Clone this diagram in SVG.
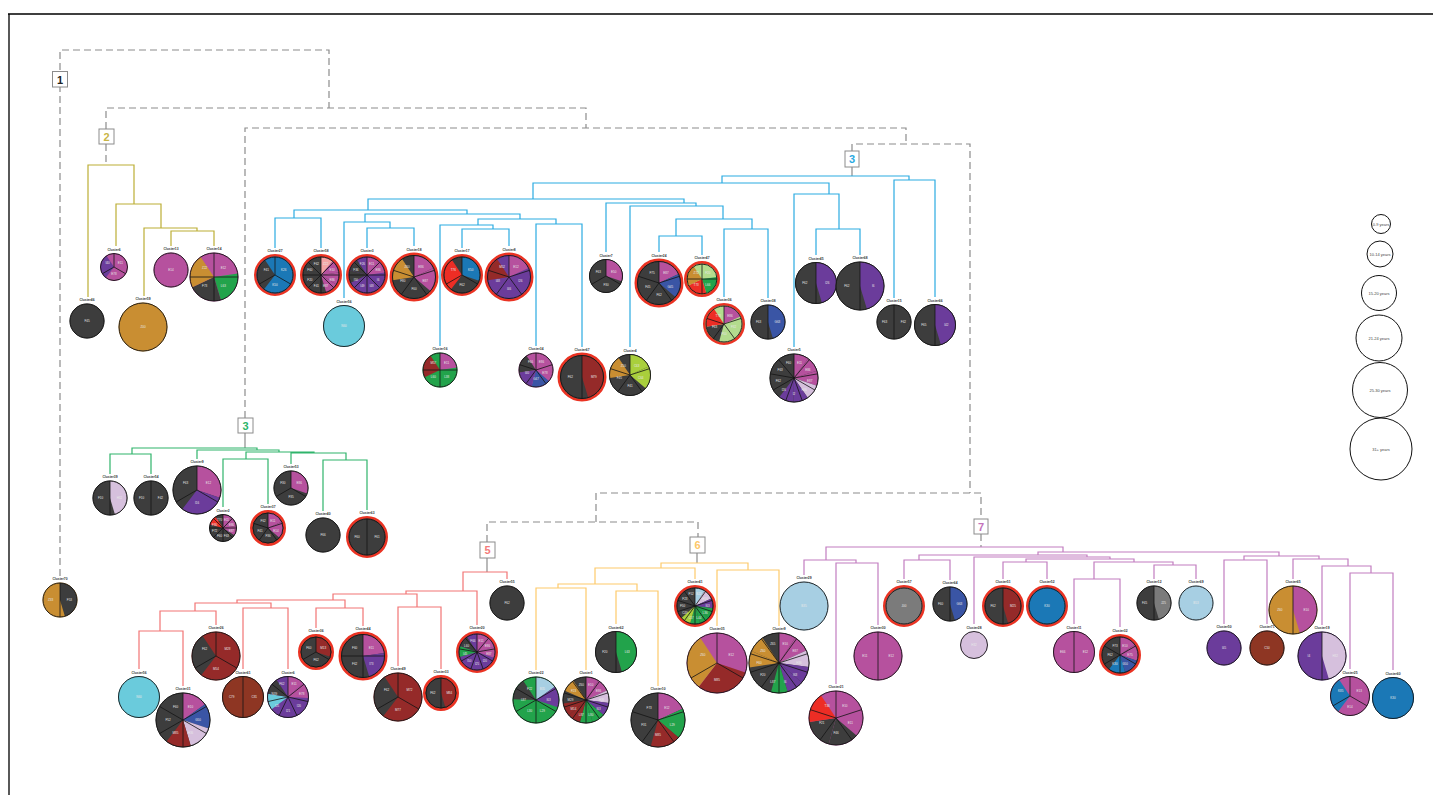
<svg xmlns="http://www.w3.org/2000/svg" width="1433" height="795" viewBox="0 0 1433 795">
<style>
.ck{fill:#3d3d3d;stroke:#3d3d3d}.ce{fill:#b6519e;stroke:#b6519e}.ci{fill:#6b3c9b;stroke:#6b3c9b}.cb{fill:#1b78b6;stroke:#1b78b6}
.cg{fill:#3a55a5;stroke:#3a55a5}.cl{fill:#22a34b;stroke:#22a34b}.cf{fill:#b3dc8e;stroke:#b3dc8e}.cy{fill:#a9cf3c;stroke:#a9cf3c}
.cz{fill:#c98e32;stroke:#c98e32}.cm{fill:#952a29;stroke:#952a29}.cc{fill:#8e3623;stroke:#8e3623}.ch{fill:#d6c0dd;stroke:#d6c0dd}
.ca{fill:#a7cfe3;stroke:#a7cfe3}.cn{fill:#6acbdc;stroke:#6acbdc}.ct{fill:#ed2d25;stroke:#ed2d25}.cp{fill:#f5a4a4;stroke:#f5a4a4}.cj{fill:#7b7b7b;stroke:#7b7b7b}
circle.s{fill:none;stroke-width:1;stroke-dasharray:1 99}
.o{fill:none;stroke:#141414;stroke-width:.9}
.rg{fill:none;stroke:#ea3323;stroke-width:3}
.sp{fill:none;stroke:#141414;stroke-width:.8;vector-effect:non-scaling-stroke}
.t{font:bold 3.3px "Liberation Sans",Arial,sans-serif;fill:#333;text-anchor:middle}
.lb{font:3px "Liberation Sans",Arial,sans-serif;fill:#e8e8e8;text-anchor:middle;dominant-baseline:central}
.d{fill:none;stroke:#8c8c8c;stroke-width:1.2;stroke-dasharray:7 4}
.gs{fill:none;stroke:#8c8c8c;stroke-width:1.2}
.e1{fill:none;stroke:#bcae35;stroke-width:1.2}.e2{fill:none;stroke:#2babe2;stroke-width:1.2}.e3{fill:none;stroke:#2fb46b;stroke-width:1.2}
.e5{fill:none;stroke:#f27474;stroke-width:1.2}.e6{fill:none;stroke:#fdca6b;stroke-width:1.2}.e7{fill:none;stroke:#c27dc0;stroke-width:1.2}
.bx{fill:#fff;stroke:#8c8c8c;stroke-width:1}
.bt{font:bold 11px "Liberation Sans",Arial,sans-serif;text-anchor:middle}
.lg{fill:none;stroke:#111;stroke-width:1}
.lt{font:4px "Liberation Sans",Arial,sans-serif;fill:#444;text-anchor:middle;dominant-baseline:central}
</style>
<defs>
<path id="s2" class="sp" d="M0-1V1"/>
<path id="s3" class="sp" d="M0 0V-1M0 0L.866 .5M0 0L-.866 .5"/>
<path id="s4" class="sp" d="M0-1V1M-1 0H1"/>
<path id="s5" class="sp" d="M0 0V-1M0 0L.951-.309M0 0L.588 .809M0 0L-.588 .809M0 0L-.951-.309"/>
<path id="s6" class="sp" d="M0-1V1M.866-.5L-.866 .5M.866 .5L-.866-.5"/>
<path id="s7" class="sp" d="M0 0V-1M0 0L.782-.623M0 0L.975 .223M0 0L.434 .901M0 0L-.434 .901M0 0L-.975 .223M0 0L-.782-.623"/>
<path id="s8" class="sp" d="M0-1V1M-1 0H1M.707-.707L-.707 .707M.707 .707L-.707-.707"/>
<path id="s9" class="sp" d="M0 0V-1M0 0L.643-.766M0 0L.985-.174M0 0L.866 .5M0 0L.342 .94M0 0L-.342 .94M0 0L-.866 .5M0 0L-.985-.174M0 0L-.643-.766"/>
<path id="s10" class="sp" d="M0-1V1M.588-.809L-.588 .809M.951-.309L-.951 .309M.951 .309L-.951-.309M.588 .809L-.588-.809"/>
</defs>
<rect width="1433" height="795" fill="#fff"/>
<path d="M8 14H1433M9 14V795" stroke="#000" stroke-width="1.3" fill="none"/>
<g id="connectors">
<path class="d" d="M60 576V50H329V108"/>
<path class="d" d="M106 129V108H586V128"/>
<path class="d" d="M245 418V128H906V144"/>
<path class="d" d="M852 151V144H970V493"/>
<path class="d" d="M596 522V493H981V519"/>
<path class="d" d="M487 542V522H698V537"/>
<path class="d" d="M106 144V165M981 534V547"/>
<path class="gs" d="M852 167V176M245 433V448M487 558V572M697 553V563"/>
<path class="e1" d="M88 297V165H134V204M116 246V204H161V228M144 296V228H197V231M171 246V231H214V246"/>
<path class="e2" d="M722 183V176H909V180M533 199V183H829V194M894 298V180H935V297M368 210V199H684V203M294 218V210H467V214M275 248V218H321V248M365 222V214H520V219M344 298V222H390V228M367 248V228H414V246M478 225V219H556V224M440 346V225H493V229M462 248V229H509V246M536 346V224H582V347M606 252V203H696V206M630 347V206H723V219M676 236V219H752V229M659 252V236H702V255M724 297V229H768V298M794 347V194H839V229M816 255V229H860V255"/>
<path class="e3" d="M132 454V448H257V450M110 474V454H151V474M197 459V450H279V452M246 459V452H314V453M223 507V459H268V504M291 464V453H346V460M323 511V460H367V510"/>
<path class="e5" d="M463 591V572H507V579M406 594V591H477V625M333 600V594H417V607M398 666V607H441V669M237 603V600H345V608M316 628V608H363V626M195 611V603H271V608M160 631V611H216V625M139 669V631H183V686M243 669V608H288V669"/>
<path class="e6" d="M661 568V563H748V570M595 584V568H695V579M558 588V584H637V591M536 670V588H586V670M616 624V591H658V686M717 626V570H779V626"/>
<path class="e7" d="M826 560V547H1063V552M804 575V560H856V563M836 684V563H878V625M1038 555V552H1279V556M919 560V555H1087V557M904 579V560H950V580M974 624V557H1110V559M1026 562V559H1134V562M1003 579V562H1047V579M1094 579V562H1173V565M1074 624V579H1120V627M1154 579V565H1196V579M1244 560V556H1319V559M1224 624V560H1267V624M1293 579V559H1348V566M1322 625V566H1371V573M1350 669V573H1393V670"/>
</g>
<g id="box1"><rect class="bx" x="52.5" y="71.5" width="15" height="15.5"/><text class="bt" x="60" y="83.5" fill="#222">1</text></g>
<g id="box2"><rect class="bx" x="99" y="129" width="15" height="15"/><text class="bt" x="106.5" y="140.5" fill="#c9b545">2</text></g>
<g id="box3a"><rect class="bx" x="845" y="151" width="14" height="16"/><text class="bt" x="852" y="163" fill="#2aa9e1">3</text></g>
<g id="box3b"><rect class="bx" x="238" y="418" width="15" height="15"/><text class="bt" x="245.5" y="429.5" fill="#2db56a">3</text></g>
<g id="box5"><rect class="bx" x="480" y="542" width="15" height="16"/><text class="bt" x="487.5" y="554" fill="#f47b7b">5</text></g>
<g id="box6"><rect class="bx" x="690" y="537" width="15" height="16"/><text class="bt" x="697.5" y="549" fill="#fdc86a">6</text></g>
<g id="box7"><rect class="bx" x="974" y="519" width="14" height="15"/><text class="bt" x="981" y="530.5" fill="#c371bb">7</text></g>

<g id="p1" transform="translate(114,267)"><circle class="ce" r="13.5"/><g transform="scale(13.5)rotate(-90)"><circle class="s ci" r=".5" pathLength="3" stroke-dashoffset="-2"/></g><use href="#s3" transform="scale(13.5)"/><circle class="o" r="13.5"/><text class="t" y="-16.5">Cluster6</text><text class="lb" transform="rotate(60)translate(0,-7.4)rotate(-60)">E11</text><text class="lb" y="7.4">E78</text><text class="lb" transform="rotate(300)translate(0,-7.4)rotate(-300)">I40</text></g>
<g id="p2" transform="translate(171,270)"><circle class="ce" r="17"/><circle class="o" r="17"/><text class="t" y="-20">Cluster13</text><text class="lb">E14</text></g>
<g id="p3" transform="translate(214,277)"><circle class="ce" r="24"/><g transform="scale(24)rotate(-90)"><circle class="s cl" r=".5" pathLength="4" stroke-dashoffset="-1"/><circle class="s ck" r=".5" pathLength="4" stroke-dashoffset="-2"/><circle class="s cz" r=".5" pathLength="4" stroke-dashoffset="-3"/></g><use href="#s4" transform="scale(24)"/><circle class="o" r="24"/><text class="t" y="-27">Cluster14</text><text class="lb" transform="rotate(45)translate(0,-13.2)rotate(-45)">E12</text><text class="lb" transform="rotate(135)translate(0,-13.2)rotate(-135)">L63</text><text class="lb" transform="rotate(225)translate(0,-13.2)rotate(-225)">F73</text><text class="lb" transform="rotate(315)translate(0,-13.2)rotate(-315)">Z22</text></g>
<g id="p4" transform="translate(87,321)"><circle class="ck" r="17"/><circle class="o" r="17"/><text class="t" y="-20">Cluster46</text><text class="lb">F45</text></g>
<g id="p5" transform="translate(143,327)"><circle class="cz" r="24"/><circle class="o" r="24"/><text class="t" y="-27">Cluster59</text><text class="lb">Z00</text></g>

<g id="p6" transform="translate(275,275)"><circle class="rg" r="19.5"/><circle class="cb" r="18"/><g transform="scale(18)rotate(-90)"><circle class="s ck" r=".5" pathLength="3" stroke-dashoffset="-2"/></g><use href="#s3" transform="scale(18)"/><circle class="o" r="18"/><text class="t" y="-23">Cluster27</text><text class="lb" transform="rotate(60)translate(0,-10)rotate(-60)">K26</text><text class="lb" y="10">K50</text><text class="lb" transform="rotate(300)translate(0,-10)rotate(-300)">F41</text></g>
<g id="p7" transform="translate(321,275)"><circle class="rg" r="19.5"/><circle class="ck" r="18"/><g transform="scale(18)rotate(-90)"><circle class="s cp" r=".5" pathLength="8"/><circle class="s ce" r=".5" pathLength="8" stroke-dashoffset="-1"/><circle class="s ce" r=".5" pathLength="8" stroke-dashoffset="-2"/><circle class="s ce" r=".5" pathLength="8" stroke-dashoffset="-3"/></g><use href="#s8" transform="scale(18)"/><circle class="o" r="18"/><text class="t" y="-23">Cluster58</text><text class="lb" transform="rotate(22.5)translate(0,-12)rotate(-22.5)">Z22</text><text class="lb" transform="rotate(67.5)translate(0,-12)rotate(-67.5)">E10</text><text class="lb" transform="rotate(112.5)translate(0,-12)rotate(-112.5)">E86</text><text class="lb" transform="rotate(157.5)translate(0,-12)rotate(-157.5)">E87</text><text class="lb" transform="rotate(202.5)translate(0,-12)rotate(-202.5)">F41</text><text class="lb" transform="rotate(247.5)translate(0,-12)rotate(-247.5)">F20</text><text class="lb" transform="rotate(292.5)translate(0,-12)rotate(-292.5)">F60</text><text class="lb" transform="rotate(337.5)translate(0,-12)rotate(-337.5)">F62</text></g>
<g id="p8" transform="translate(367,275)"><circle class="rg" r="19.5"/><circle class="ci" r="18"/><g transform="scale(18)rotate(-90)"><circle class="s ce" r=".5" pathLength="8"/><circle class="s ce" r=".5" pathLength="8" stroke-dashoffset="-1"/><circle class="s ck" r=".5" pathLength="8" stroke-dashoffset="-6"/><circle class="s ck" r=".5" pathLength="8" stroke-dashoffset="-7"/></g><use href="#s8" transform="scale(18)"/><circle class="o" r="18"/><text class="t" y="-23">Cluster3</text><text class="lb" transform="rotate(22.5)translate(0,-12)rotate(-22.5)">E11</text><text class="lb" transform="rotate(67.5)translate(0,-12)rotate(-67.5)">E86</text><text class="lb" transform="rotate(112.5)translate(0,-12)rotate(-112.5)">I6</text><text class="lb" transform="rotate(157.5)translate(0,-12)rotate(-157.5)">I48</text><text class="lb" transform="rotate(202.5)translate(0,-12)rotate(-202.5)">I49</text><text class="lb" transform="rotate(247.5)translate(0,-12)rotate(-247.5)">I50</text><text class="lb" transform="rotate(292.5)translate(0,-12)rotate(-292.5)">F36</text><text class="lb" transform="rotate(337.5)translate(0,-12)rotate(-337.5)">F26</text></g>
<g id="p9" transform="translate(414,277)"><circle class="rg" r="23"/><circle class="ck" r="21.5"/><g transform="scale(21.5)rotate(-90)"><circle class="s ce" r=".5" pathLength="5"/><circle class="s ce" r=".5" pathLength="5" stroke-dashoffset="-1"/><circle class="s cz" r=".5" pathLength="5" stroke-dashoffset="-4"/></g><use href="#s5" transform="scale(21.5)"/><circle class="o" r="21.5"/><text class="t" y="-26.5">Cluster18</text><text class="lb" transform="rotate(36)translate(0,-11.8)rotate(-36)">E86</text><text class="lb" transform="rotate(108)translate(0,-11.8)rotate(-108)">E87</text><text class="lb" y="11.8">F00</text><text class="lb" transform="rotate(252)translate(0,-11.8)rotate(-252)">F80</text><text class="lb" transform="rotate(324)translate(0,-11.8)rotate(-324)">Z60</text></g>
<g id="p10" transform="translate(462,275)"><circle class="rg" r="19.5"/><circle class="ck" r="18"/><g transform="scale(18)rotate(-90)"><circle class="s cb" r=".5" pathLength="3"/><circle class="s ct" r=".5" pathLength="3" stroke-dashoffset="-2"/></g><use href="#s3" transform="scale(18)"/><circle class="o" r="18"/><text class="t" y="-23">Cluster17</text><text class="lb" transform="rotate(60)translate(0,-10)rotate(-60)">K50</text><text class="lb" y="10">F62</text><text class="lb" transform="rotate(300)translate(0,-10)rotate(-300)">T76</text></g>
<g id="p11" transform="translate(509,277)"><circle class="rg" r="23"/><circle class="ci" r="21.5"/><g transform="scale(21.5)rotate(-90)"><circle class="s ce" r=".5" pathLength="5"/><circle class="s cm" r=".5" pathLength="5" stroke-dashoffset="-4"/></g><use href="#s5" transform="scale(21.5)"/><circle class="o" r="21.5"/><text class="t" y="-26.5">Cluster8</text><text class="lb" transform="rotate(36)translate(0,-11.8)rotate(-36)">E12</text><text class="lb" transform="rotate(108)translate(0,-11.8)rotate(-108)">I26</text><text class="lb" y="11.8">I46</text><text class="lb" transform="rotate(252)translate(0,-11.8)rotate(-252)">I48</text><text class="lb" transform="rotate(324)translate(0,-11.8)rotate(-324)">M52</text></g>
<g id="p12" transform="translate(344,326)"><circle class="cn" r="20.5"/><circle class="o" r="20.5"/><text class="t" y="-23.5">Cluster56</text><text class="lb">N60</text></g>
<g id="p13" transform="translate(440,370)"><circle class="cl" r="17"/><g transform="scale(17)rotate(-90)"><circle class="s ce" r=".5" pathLength="4"/><circle class="s cm" r=".5" pathLength="4" stroke-dashoffset="-3"/></g><use href="#s4" transform="scale(17)"/><circle class="o" r="17"/><text class="t" y="-20">Cluster16</text><text class="lb" transform="rotate(45)translate(0,-9.4)rotate(-45)">E11</text><text class="lb" transform="rotate(135)translate(0,-9.4)rotate(-135)">L38</text><text class="lb" transform="rotate(225)translate(0,-9.4)rotate(-225)">L60</text><text class="lb" transform="rotate(315)translate(0,-9.4)rotate(-315)">M57</text></g>
<g id="p14" transform="translate(536,370)"><circle class="ce" r="17"/><g transform="scale(17)rotate(-90)"><circle class="s cg" r=".5" pathLength="5" stroke-dashoffset="-2"/><circle class="s ci" r=".5" pathLength="5" stroke-dashoffset="-3"/><circle class="s ck" r=".5" pathLength="5" stroke-dashoffset="-4"/></g><use href="#s5" transform="scale(17)"/><circle class="o" r="17"/><text class="t" y="-20">Cluster34</text><text class="lb" transform="rotate(36)translate(0,-9.4)rotate(-36)">E86</text><text class="lb" transform="rotate(108)translate(0,-9.4)rotate(-108)">E78</text><text class="lb" y="9.4">G47</text><text class="lb" transform="rotate(252)translate(0,-9.4)rotate(-252)">I40</text><text class="lb" transform="rotate(324)translate(0,-9.4)rotate(-324)">F66</text></g>
<g id="p15" transform="translate(582,377)"><circle class="rg" r="23"/><circle class="ck" r="21.5"/><g transform="scale(21.5)rotate(-90)"><circle class="s cm" r=".5" pathLength="2"/></g><use href="#s2" transform="scale(21.5)"/><circle class="o" r="21.5"/><text class="t" y="-26.5">Cluster67</text><text class="lb" x="11.8">M79</text><text class="lb" x="-11.8">F62</text></g>
<g id="p16" transform="translate(606,276)"><circle class="ck" r="16.5"/><g transform="scale(16.5)rotate(-90)"><circle class="s ce" r=".5" pathLength="3"/></g><use href="#s3" transform="scale(16.5)"/><circle class="o" r="16.5"/><text class="t" y="-19.5">Cluster7</text><text class="lb" transform="rotate(60)translate(0,-9)rotate(-60)">E50</text><text class="lb" y="9">F30</text><text class="lb" transform="rotate(300)translate(0,-9)rotate(-300)">F63</text></g>
<g id="p17" transform="translate(659,283)"><circle class="rg" r="23"/><circle class="ck" r="21.5"/><g transform="scale(21.5)rotate(-90)"><circle class="s ce" r=".5" pathLength="5"/><circle class="s cg" r=".5" pathLength="5" stroke-dashoffset="-1"/></g><use href="#s5" transform="scale(21.5)"/><circle class="o" r="21.5"/><text class="t" y="-26.5">Cluster24</text><text class="lb" transform="rotate(36)translate(0,-11.8)rotate(-36)">E87</text><text class="lb" transform="rotate(108)translate(0,-11.8)rotate(-108)">G45</text><text class="lb" y="11.8">F62</text><text class="lb" transform="rotate(252)translate(0,-11.8)rotate(-252)">F45</text><text class="lb" transform="rotate(324)translate(0,-11.8)rotate(-324)">F75</text></g>
<g id="p18" transform="translate(702,279)"><circle class="rg" r="16.5"/><circle class="cf" r="15"/><g transform="scale(15)rotate(-90)"><circle class="s cl" r=".5" pathLength="4" stroke-dashoffset="-1"/><circle class="s ct" r=".5" pathLength="4" stroke-dashoffset="-2"/><circle class="s cz" r=".5" pathLength="4" stroke-dashoffset="-3"/></g><use href="#s4" transform="scale(15)"/><circle class="o" r="15"/><text class="t" y="-20">Cluster47</text><text class="lb" transform="rotate(45)translate(0,-8.3)rotate(-45)">F20</text><text class="lb" transform="rotate(135)translate(0,-8.3)rotate(-135)">L66</text><text class="lb" transform="rotate(225)translate(0,-8.3)rotate(-225)">T73</text><text class="lb" transform="rotate(315)translate(0,-8.3)rotate(-315)">Z72</text></g>
<g id="p19" transform="translate(724,324)"><circle class="rg" r="19.5"/><circle class="cf" r="18"/><g transform="scale(18)rotate(-90)"><circle class="s ce" r=".5" pathLength="5"/><circle class="s ck" r=".5" pathLength="5" stroke-dashoffset="-3"/><circle class="s ct" r=".5" pathLength="5" stroke-dashoffset="-4"/></g><use href="#s5" transform="scale(18)"/><circle class="o" r="18"/><text class="t" y="-23">Cluster36</text><text class="lb" transform="rotate(36)translate(0,-10)rotate(-36)">E86</text><text class="lb" transform="rotate(108)translate(0,-10)rotate(-108)">F32</text><text class="lb" y="10">F50</text><text class="lb" transform="rotate(252)translate(0,-10)rotate(-252)">F63</text><text class="lb" transform="rotate(324)translate(0,-10)rotate(-324)">T73</text></g>
<g id="p20" transform="translate(768,322)"><circle class="ck" r="17"/><g transform="scale(17)rotate(-90)"><circle class="s cg" r=".5" pathLength="2"/></g><use href="#s2" transform="scale(17)"/><circle class="o" r="17"/><text class="t" y="-20">Cluster38</text><text class="lb" x="9.4">G63</text><text class="lb" x="-9.4">F63</text></g>
<g id="p21" transform="translate(816,283)"><circle class="ck" r="20.5"/><g transform="scale(20.5)rotate(-90)"><circle class="s ci" r=".5" pathLength="2"/></g><use href="#s2" transform="scale(20.5)"/><circle class="o" r="20.5"/><text class="t" y="-23.5">Cluster45</text><text class="lb" x="11.3">I26</text><text class="lb" x="-11.3">F62</text></g>
<g id="p22" transform="translate(860,286)"><circle class="ck" r="24"/><g transform="scale(24)rotate(-90)"><circle class="s ci" r=".5" pathLength="2"/></g><use href="#s2" transform="scale(24)"/><circle class="o" r="24"/><text class="t" y="-27">Cluster68</text><text class="lb" x="13.2">I6</text><text class="lb" x="-13.2">F62</text></g>
<g id="p23" transform="translate(894,322)"><circle class="ck" r="17"/><use href="#s2" transform="scale(17)"/><circle class="o" r="17"/><text class="t" y="-20">Cluster15</text><text class="lb" x="9.4">F62</text><text class="lb" x="-9.4">F63</text></g>
<g id="p24" transform="translate(935,325)"><circle class="ck" r="20.5"/><g transform="scale(20.5)rotate(-90)"><circle class="s ci" r=".5" pathLength="2"/></g><use href="#s2" transform="scale(20.5)"/><circle class="o" r="20.5"/><text class="t" y="-23.5">Cluster66</text><text class="lb" x="11.3">I42</text><text class="lb" x="-11.3">F65</text></g>
<g id="p25" transform="translate(794,378)"><circle class="ck" r="24"/><g transform="scale(24)rotate(-90)"><circle class="s ce" r=".5" pathLength="9"/><circle class="s ce" r=".5" pathLength="9" stroke-dashoffset="-1"/><circle class="s ce" r=".5" pathLength="9" stroke-dashoffset="-2"/><circle class="s ch" r=".5" pathLength="9" stroke-dashoffset="-3"/><circle class="s ci" r=".5" pathLength="9" stroke-dashoffset="-4"/><circle class="s ci" r=".5" pathLength="9" stroke-dashoffset="-5"/></g><use href="#s9" transform="scale(24)"/><circle class="o" r="24"/><text class="t" y="-27">Cluster5</text><text class="lb" transform="rotate(20)translate(0,-16)rotate(-20)">E11</text><text class="lb" transform="rotate(60)translate(0,-16)rotate(-60)">E86</text><text class="lb" transform="rotate(100)translate(0,-16)rotate(-100)">E87</text><text class="lb" transform="rotate(140)translate(0,-16)rotate(-140)">H36</text><text class="lb" y="16">I2</text><text class="lb" transform="rotate(220)translate(0,-16)rotate(-220)">I26</text><text class="lb" transform="rotate(260)translate(0,-16)rotate(-260)">F62</text><text class="lb" transform="rotate(300)translate(0,-16)rotate(-300)">F63</text><text class="lb" transform="rotate(340)translate(0,-16)rotate(-340)">F60</text></g>
<g id="p26" transform="translate(630,375)"><circle class="ck" r="20.5"/><g transform="scale(20.5)rotate(-90)"><circle class="s cy" r=".5" pathLength="5"/><circle class="s cy" r=".5" pathLength="5" stroke-dashoffset="-1"/><circle class="s cz" r=".5" pathLength="5" stroke-dashoffset="-4"/></g><use href="#s5" transform="scale(20.5)"/><circle class="o" r="20.5"/><text class="t" y="-23.5">Cluster4</text><text class="lb" transform="rotate(36)translate(0,-11.3)rotate(-36)">C63</text><text class="lb" transform="rotate(108)translate(0,-11.3)rotate(-108)">C64</text><text class="lb" y="11.3">F41</text><text class="lb" transform="rotate(252)translate(0,-11.3)rotate(-252)">F45</text><text class="lb" transform="rotate(324)translate(0,-11.3)rotate(-324)">Z50</text></g>

<g id="p27" transform="translate(110,498)"><circle class="ck" r="17"/><g transform="scale(17)rotate(-90)"><circle class="s ch" r=".5" pathLength="2"/></g><use href="#s2" transform="scale(17)"/><circle class="o" r="17"/><text class="t" y="-20">Cluster39</text><text class="lb" x="9.4">H32</text><text class="lb" x="-9.4">F10</text></g>
<g id="p28" transform="translate(151,498)"><circle class="ck" r="17"/><use href="#s2" transform="scale(17)"/><circle class="o" r="17"/><text class="t" y="-20">Cluster54</text><text class="lb" x="9.4">F42</text><text class="lb" x="-9.4">F10</text></g>
<g id="p29" transform="translate(197,490)"><circle class="ck" r="24"/><g transform="scale(24)rotate(-90)"><circle class="s ce" r=".5" pathLength="3"/><circle class="s ci" r=".5" pathLength="3" stroke-dashoffset="-1"/></g><use href="#s3" transform="scale(24)"/><circle class="o" r="24"/><text class="t" y="-27">Cluster9</text><text class="lb" transform="rotate(60)translate(0,-13.2)rotate(-60)">E12</text><text class="lb" y="13.2">I16</text><text class="lb" transform="rotate(300)translate(0,-13.2)rotate(-300)">F63</text></g>
<g id="p30" transform="translate(223,528)"><circle class="ck" r="13.5"/><g transform="scale(13.5)rotate(-90)"><circle class="s ce" r=".5" pathLength="8"/><circle class="s ce" r=".5" pathLength="8" stroke-dashoffset="-1"/><circle class="s ce" r=".5" pathLength="8" stroke-dashoffset="-2"/><circle class="s ct" r=".5" pathLength="8" stroke-dashoffset="-7"/></g><use href="#s8" transform="scale(13.5)"/><circle class="o" r="13.5"/><text class="t" y="-16.5">Cluster2</text><text class="lb" transform="rotate(22.5)translate(0,-9)rotate(-22.5)">E11</text><text class="lb" transform="rotate(67.5)translate(0,-9)rotate(-67.5)">E86</text><text class="lb" transform="rotate(112.5)translate(0,-9)rotate(-112.5)">E87</text><text class="lb" transform="rotate(157.5)translate(0,-9)rotate(-157.5)">F63</text><text class="lb" transform="rotate(202.5)translate(0,-9)rotate(-202.5)">F60</text><text class="lb" transform="rotate(247.5)translate(0,-9)rotate(-247.5)">F72</text><text class="lb" transform="rotate(292.5)translate(0,-9)rotate(-292.5)">F80</text><text class="lb" transform="rotate(337.5)translate(0,-9)rotate(-337.5)">T70</text></g>
<g id="p31" transform="translate(268,528)"><circle class="rg" r="16.5"/><circle class="ck" r="15"/><g transform="scale(15)rotate(-90)"><circle class="s ce" r=".5" pathLength="5"/><circle class="s ce" r=".5" pathLength="5" stroke-dashoffset="-1"/></g><use href="#s5" transform="scale(15)"/><circle class="o" r="15"/><text class="t" y="-20">Cluster37</text><text class="lb" transform="rotate(36)translate(0,-8.3)rotate(-36)">E11</text><text class="lb" transform="rotate(108)translate(0,-8.3)rotate(-108)">E14</text><text class="lb" y="8.3">F36</text><text class="lb" transform="rotate(252)translate(0,-8.3)rotate(-252)">F41</text><text class="lb" transform="rotate(324)translate(0,-8.3)rotate(-324)">F62</text></g>
<g id="p32" transform="translate(291,488)"><circle class="ck" r="17"/><g transform="scale(17)rotate(-90)"><circle class="s ce" r=".5" pathLength="3"/></g><use href="#s3" transform="scale(17)"/><circle class="o" r="17"/><text class="t" y="-20">Cluster53</text><text class="lb" transform="rotate(60)translate(0,-9.4)rotate(-60)">E86</text><text class="lb" y="9.4">F35</text><text class="lb" transform="rotate(300)translate(0,-9.4)rotate(-300)">F30</text></g>
<g id="p33" transform="translate(323,535)"><circle class="ck" r="17"/><circle class="o" r="17"/><text class="t" y="-20">Cluster40</text><text class="lb">F66</text></g>
<g id="p34" transform="translate(367,537)"><circle class="rg" r="19.5"/><circle class="ck" r="18"/><use href="#s2" transform="scale(18)"/><circle class="o" r="18"/><text class="t" y="-23">Cluster63</text><text class="lb" x="10">F61</text><text class="lb" x="-10">F60</text></g>

<g id="p35" transform="translate(507,603)"><circle class="ck" r="17"/><circle class="o" r="17"/><text class="t" y="-20">Cluster55</text><text class="lb">F62</text></g>
<g id="p36" transform="translate(477,652)"><circle class="rg" r="19.5"/><circle class="ci" r="18"/><g transform="scale(18)rotate(-90)"><circle class="s ce" r=".5" pathLength="9"/><circle class="s ce" r=".5" pathLength="9" stroke-dashoffset="-1"/><circle class="s ce" r=".5" pathLength="9" stroke-dashoffset="-2"/><circle class="s cl" r=".5" pathLength="9" stroke-dashoffset="-7"/><circle class="s ck" r=".5" pathLength="9" stroke-dashoffset="-8"/></g><use href="#s9" transform="scale(18)"/><circle class="o" r="18"/><text class="t" y="-23">Cluster20</text><text class="lb" transform="rotate(20)translate(0,-12)rotate(-20)">E11</text><text class="lb" transform="rotate(60)translate(0,-12)rotate(-60)">E86</text><text class="lb" transform="rotate(100)translate(0,-12)rotate(-100)">E87</text><text class="lb" transform="rotate(140)translate(0,-12)rotate(-140)">I20</text><text class="lb" y="12">I25</text><text class="lb" transform="rotate(220)translate(0,-12)rotate(-220)">I50</text><text class="lb" transform="rotate(260)translate(0,-12)rotate(-260)">I45</text><text class="lb" transform="rotate(300)translate(0,-12)rotate(-300)">L60</text><text class="lb" transform="rotate(340)translate(0,-12)rotate(-340)">F66</text></g>
<g id="p37" transform="translate(316,652)"><circle class="rg" r="16.5"/><circle class="ck" r="15"/><g transform="scale(15)rotate(-90)"><circle class="s cm" r=".5" pathLength="3"/></g><use href="#s3" transform="scale(15)"/><circle class="o" r="15"/><text class="t" y="-20">Cluster36</text><text class="lb" transform="rotate(60)translate(0,-8.3)rotate(-60)">M13</text><text class="lb" y="8.3">F62</text><text class="lb" transform="rotate(300)translate(0,-8.3)rotate(-300)">F60</text></g>
<g id="p38" transform="translate(363,656)"><circle class="rg" r="23"/><circle class="ck" r="21.5"/><g transform="scale(21.5)rotate(-90)"><circle class="s ce" r=".5" pathLength="4"/><circle class="s ci" r=".5" pathLength="4" stroke-dashoffset="-1"/></g><use href="#s4" transform="scale(21.5)"/><circle class="o" r="21.5"/><text class="t" y="-26.5">Cluster44</text><text class="lb" transform="rotate(45)translate(0,-11.8)rotate(-45)">E11</text><text class="lb" transform="rotate(135)translate(0,-11.8)rotate(-135)">I73</text><text class="lb" transform="rotate(225)translate(0,-11.8)rotate(-225)">F62</text><text class="lb" transform="rotate(315)translate(0,-11.8)rotate(-315)">F60</text></g>
<g id="p39" transform="translate(216,656)"><circle class="cm" r="24"/><g transform="scale(24)rotate(-90)"><circle class="s ck" r=".5" pathLength="3" stroke-dashoffset="-2"/></g><use href="#s3" transform="scale(24)"/><circle class="o" r="24"/><text class="t" y="-27">Cluster26</text><text class="lb" transform="rotate(60)translate(0,-13.2)rotate(-60)">M28</text><text class="lb" y="13.2">M54</text><text class="lb" transform="rotate(300)translate(0,-13.2)rotate(-300)">F62</text></g>
<g id="p40" transform="translate(139,697)"><circle class="cn" r="20.5"/><circle class="o" r="20.5"/><text class="t" y="-23.5">Cluster56</text><text class="lb">N60</text></g>
<g id="p41" transform="translate(183,720)"><circle class="ck" r="27"/><g transform="scale(27)rotate(-90)"><circle class="s ce" r=".5" pathLength="6"/><circle class="s cg" r=".5" pathLength="6" stroke-dashoffset="-1"/><circle class="s ch" r=".5" pathLength="6" stroke-dashoffset="-2"/><circle class="s cm" r=".5" pathLength="6" stroke-dashoffset="-3"/></g><use href="#s6" transform="scale(27)"/><circle class="o" r="27"/><text class="t" y="-30">Cluster31</text><text class="lb" transform="rotate(30)translate(0,-15)rotate(-30)">E10</text><text class="lb" x="15">G50</text><text class="lb" transform="rotate(150)translate(0,-15)rotate(-150)">H36</text><text class="lb" transform="rotate(210)translate(0,-15)rotate(-210)">M85</text><text class="lb" x="-15">F52</text><text class="lb" transform="rotate(330)translate(0,-15)rotate(-330)">F60</text></g>
<g id="p42" transform="translate(243,697)"><circle class="cc" r="20.5"/><use href="#s2" transform="scale(20.5)"/><circle class="o" r="20.5"/><text class="t" y="-23.5">Cluster61</text><text class="lb" x="11.3">C81</text><text class="lb" x="-11.3">C79</text></g>
<g id="p43" transform="translate(288,697)"><circle class="ci" r="20.5"/><g transform="scale(20.5)rotate(-90)"><circle class="s ce" r=".5" pathLength="7"/><circle class="s ce" r=".5" pathLength="7" stroke-dashoffset="-1"/><circle class="s cn" r=".5" pathLength="7" stroke-dashoffset="-5"/><circle class="s ck" r=".5" pathLength="7" stroke-dashoffset="-6"/></g><use href="#s7" transform="scale(20.5)"/><circle class="o" r="20.5"/><text class="t" y="-23.5">Cluster6</text><text class="lb" transform="rotate(26)translate(0,-14)rotate(-26)">E11</text><text class="lb" transform="rotate(77)translate(0,-14)rotate(-77)">E78</text><text class="lb" transform="rotate(129)translate(0,-14)rotate(-129)">I20</text><text class="lb" y="14">I21</text><text class="lb" transform="rotate(231)translate(0,-14)rotate(-231)">I25</text><text class="lb" transform="rotate(283)translate(0,-14)rotate(-283)">N39</text><text class="lb" transform="rotate(334)translate(0,-14)rotate(-334)">F62</text></g>
<g id="p44" transform="translate(398,697)"><circle class="cm" r="24"/><g transform="scale(24)rotate(-90)"><circle class="s ck" r=".5" pathLength="3" stroke-dashoffset="-2"/></g><use href="#s3" transform="scale(24)"/><circle class="o" r="24"/><text class="t" y="-27">Cluster49</text><text class="lb" transform="rotate(60)translate(0,-13.2)rotate(-60)">M72</text><text class="lb" y="13.2">M77</text><text class="lb" transform="rotate(300)translate(0,-13.2)rotate(-300)">F62</text></g>
<g id="p45" transform="translate(441,693)"><circle class="rg" r="16.5"/><circle class="ck" r="15"/><g transform="scale(15)rotate(-90)"><circle class="s cm" r=".5" pathLength="2"/></g><use href="#s2" transform="scale(15)"/><circle class="o" r="15"/><text class="t" y="-20">Cluster33</text><text class="lb" x="8.3">M84</text><text class="lb" x="-8.3">F62</text></g>

<g id="p46" transform="translate(695,606)"><circle class="rg" r="19.5"/><circle class="ck" r="18"/><g transform="scale(18)rotate(-90)"><circle class="s ca" r=".5" pathLength="10"/><circle class="s ch" r=".5" pathLength="10" stroke-dashoffset="-1"/><circle class="s ci" r=".5" pathLength="10" stroke-dashoffset="-2"/><circle class="s cl" r=".5" pathLength="10" stroke-dashoffset="-3"/><circle class="s cl" r=".5" pathLength="10" stroke-dashoffset="-4"/><circle class="s cl" r=".5" pathLength="10" stroke-dashoffset="-5"/><circle class="s cy" r=".5" pathLength="10" stroke-dashoffset="-6"/></g><use href="#s10" transform="scale(18)"/><circle class="o" r="18"/><text class="t" y="-23">Cluster41</text><text class="lb" transform="rotate(18)translate(0,-12.5)rotate(-18)">B22</text><text class="lb" transform="rotate(54)translate(0,-12.5)rotate(-54)">H56</text><text class="lb" x="12.5">I63</text><text class="lb" transform="rotate(126)translate(0,-12.5)rotate(-126)">L36</text><text class="lb" transform="rotate(162)translate(0,-12.5)rotate(-162)">L44</text><text class="lb" transform="rotate(198)translate(0,-12.5)rotate(-198)">L57</text><text class="lb" transform="rotate(234)translate(0,-12.5)rotate(-234)">C49</text><text class="lb" x="-12.5">F50</text><text class="lb" transform="rotate(306)translate(0,-12.5)rotate(-306)">F23</text><text class="lb" transform="rotate(342)translate(0,-12.5)rotate(-342)">F52</text></g>
<g id="p47" transform="translate(616,652)"><circle class="ck" r="20.5"/><g transform="scale(20.5)rotate(-90)"><circle class="s cl" r=".5" pathLength="2"/></g><use href="#s2" transform="scale(20.5)"/><circle class="o" r="20.5"/><text class="t" y="-23.5">Cluster62</text><text class="lb" x="11.3">L63</text><text class="lb" x="-11.3">F20</text></g>
<g id="p48" transform="translate(536,700)"><circle class="cl" r="23"/><g transform="scale(23)rotate(-90)"><circle class="s ca" r=".5" pathLength="6"/><circle class="s ci" r=".5" pathLength="6" stroke-dashoffset="-1"/><circle class="s ck" r=".5" pathLength="6" stroke-dashoffset="-5"/></g><use href="#s6" transform="scale(23)"/><circle class="o" r="23"/><text class="t" y="-26">Cluster22</text><text class="lb" transform="rotate(30)translate(0,-12.6)rotate(-30)">B35</text><text class="lb" x="12.6">I63</text><text class="lb" transform="rotate(150)translate(0,-12.6)rotate(-150)">L29</text><text class="lb" transform="rotate(210)translate(0,-12.6)rotate(-210)">L30</text><text class="lb" x="-12.6">L87</text><text class="lb" transform="rotate(330)translate(0,-12.6)rotate(-330)">F22</text></g>
<g id="p49" transform="translate(586,700)"><circle class="ck" r="23"/><g transform="scale(23)rotate(-90)"><circle class="s ce" r=".5" pathLength="10"/><circle class="s ce" r=".5" pathLength="10" stroke-dashoffset="-1"/><circle class="s ch" r=".5" pathLength="10" stroke-dashoffset="-2"/><circle class="s ci" r=".5" pathLength="10" stroke-dashoffset="-3"/><circle class="s cl" r=".5" pathLength="10" stroke-dashoffset="-4"/><circle class="s cl" r=".5" pathLength="10" stroke-dashoffset="-5"/><circle class="s cm" r=".5" pathLength="10" stroke-dashoffset="-6"/><circle class="s cm" r=".5" pathLength="10" stroke-dashoffset="-7"/><circle class="s cz" r=".5" pathLength="10" stroke-dashoffset="-9"/></g><use href="#s10" transform="scale(23)"/><circle class="o" r="23"/><text class="t" y="-26">Cluster1</text><text class="lb" transform="rotate(18)translate(0,-15.5)rotate(-18)">E10</text><text class="lb" transform="rotate(54)translate(0,-15.5)rotate(-54)">E86</text><text class="lb" x="15.5">H36</text><text class="lb" transform="rotate(126)translate(0,-15.5)rotate(-126)">I63</text><text class="lb" transform="rotate(162)translate(0,-15.5)rotate(-162)">L80</text><text class="lb" transform="rotate(198)translate(0,-15.5)rotate(-198)">L87</text><text class="lb" transform="rotate(234)translate(0,-15.5)rotate(-234)">M14</text><text class="lb" x="-15.5">M29</text><text class="lb" transform="rotate(306)translate(0,-15.5)rotate(-306)">F23</text><text class="lb" transform="rotate(342)translate(0,-15.5)rotate(-342)">Z60</text></g>
<g id="p50" transform="translate(658,720)"><circle class="ck" r="27"/><g transform="scale(27)rotate(-90)"><circle class="s ce" r=".5" pathLength="5"/><circle class="s cl" r=".5" pathLength="5" stroke-dashoffset="-1"/><circle class="s cm" r=".5" pathLength="5" stroke-dashoffset="-2"/></g><use href="#s5" transform="scale(27)"/><circle class="o" r="27"/><text class="t" y="-30">Cluster10</text><text class="lb" transform="rotate(36)translate(0,-15)rotate(-36)">E12</text><text class="lb" transform="rotate(108)translate(0,-15)rotate(-108)">L29</text><text class="lb" y="15">M85</text><text class="lb" transform="rotate(252)translate(0,-15)rotate(-252)">F31</text><text class="lb" transform="rotate(324)translate(0,-15)rotate(-324)">F73</text></g>
<g id="p51" transform="translate(717,663)"><circle class="ce" r="30"/><g transform="scale(30)rotate(-90)"><circle class="s cm" r=".5" pathLength="3" stroke-dashoffset="-1"/><circle class="s cz" r=".5" pathLength="3" stroke-dashoffset="-2"/></g><use href="#s3" transform="scale(30)"/><circle class="o" r="30"/><text class="t" y="-33">Cluster35</text><text class="lb" transform="rotate(60)translate(0,-16.5)rotate(-60)">E12</text><text class="lb" y="16.5">M85</text><text class="lb" transform="rotate(300)translate(0,-16.5)rotate(-300)">Z60</text></g>
<g id="p52" transform="translate(779,663)"><circle class="ck" r="30"/><g transform="scale(30)rotate(-90)"><circle class="s ce" r=".5" pathLength="10"/><circle class="s ce" r=".5" pathLength="10" stroke-dashoffset="-1"/><circle class="s ch" r=".5" pathLength="10" stroke-dashoffset="-2"/><circle class="s ci" r=".5" pathLength="10" stroke-dashoffset="-3"/><circle class="s ci" r=".5" pathLength="10" stroke-dashoffset="-4"/><circle class="s cl" r=".5" pathLength="10" stroke-dashoffset="-5"/><circle class="s cz" r=".5" pathLength="10" stroke-dashoffset="-8"/><circle class="s cz" r=".5" pathLength="10" stroke-dashoffset="-9"/></g><use href="#s10" transform="scale(30)"/><circle class="o" r="30"/><text class="t" y="-33">Cluster9</text><text class="lb" transform="rotate(18)translate(0,-20)rotate(-18)">E10</text><text class="lb" transform="rotate(54)translate(0,-20)rotate(-54)">E87</text><text class="lb" x="20">H36</text><text class="lb" transform="rotate(126)translate(0,-20)rotate(-126)">I63</text><text class="lb" transform="rotate(162)translate(0,-20)rotate(-162)">I6</text><text class="lb" transform="rotate(198)translate(0,-20)rotate(-198)">L87</text><text class="lb" transform="rotate(234)translate(0,-20)rotate(-234)">F20</text><text class="lb" x="-20">F60</text><text class="lb" transform="rotate(306)translate(0,-20)rotate(-306)">Z60</text><text class="lb" transform="rotate(342)translate(0,-20)rotate(-342)">Z65</text></g>

<g id="p53" transform="translate(804,606)"><circle class="ca" r="24"/><circle class="o" r="24"/><text class="t" y="-27">Cluster29</text><text class="lb">B35</text></g>
<g id="p54" transform="translate(836,718)"><circle class="ce" r="27"/><g transform="scale(27)rotate(-90)"><circle class="s ck" r=".5" pathLength="5" stroke-dashoffset="-2"/><circle class="s ck" r=".5" pathLength="5" stroke-dashoffset="-3"/><circle class="s ct" r=".5" pathLength="5" stroke-dashoffset="-4"/></g><use href="#s5" transform="scale(27)"/><circle class="o" r="27"/><text class="t" y="-30">Cluster21</text><text class="lb" transform="rotate(36)translate(0,-15)rotate(-36)">E10</text><text class="lb" transform="rotate(108)translate(0,-15)rotate(-108)">E11</text><text class="lb" y="15">F46</text><text class="lb" transform="rotate(252)translate(0,-15)rotate(-252)">F21</text><text class="lb" transform="rotate(324)translate(0,-15)rotate(-324)">T36</text></g>
<g id="p55" transform="translate(878,656)"><circle class="ce" r="24"/><use href="#s2" transform="scale(24)"/><circle class="o" r="24"/><text class="t" y="-27">Cluster30</text><text class="lb" x="13.2">E12</text><text class="lb" x="-13.2">E11</text></g>
<g id="p56" transform="translate(904,606)"><circle class="rg" r="19.5"/><circle class="cj" r="18"/><circle class="o" r="18"/><text class="t" y="-23">Cluster57</text><text class="lb">J00</text></g>
<g id="p57" transform="translate(950,604)"><circle class="ck" r="17"/><g transform="scale(17)rotate(-90)"><circle class="s cg" r=".5" pathLength="2"/></g><use href="#s2" transform="scale(17)"/><circle class="o" r="17"/><text class="t" y="-20">Cluster64</text><text class="lb" x="9.4">G63</text><text class="lb" x="-9.4">F60</text></g>
<g id="p58" transform="translate(974,645)"><circle class="ch" r="13.5"/><circle class="o" r="13.5"/><text class="t" y="-16.5">Cluster28</text><text class="lb">H32</text></g>
<g id="p59" transform="translate(1003,606)"><circle class="rg" r="19.5"/><circle class="ck" r="18"/><g transform="scale(18)rotate(-90)"><circle class="s cm" r=".5" pathLength="2"/></g><use href="#s2" transform="scale(18)"/><circle class="o" r="18"/><text class="t" y="-23">Cluster51</text><text class="lb" x="10">M25</text><text class="lb" x="-10">F62</text></g>
<g id="p60" transform="translate(1047,606)"><circle class="rg" r="19.5"/><circle class="cb" r="18"/><circle class="o" r="18"/><text class="t" y="-23">Cluster52</text><text class="lb">K30</text></g>
<g id="p61" transform="translate(1074,652)"><circle class="ce" r="20.5"/><use href="#s2" transform="scale(20.5)"/><circle class="o" r="20.5"/><text class="t" y="-23.5">Cluster11</text><text class="lb" x="11.3">E12</text><text class="lb" x="-11.3">E66</text></g>
<g id="p62" transform="translate(1120,655)"><circle class="rg" r="19.5"/><circle class="ck" r="18"/><g transform="scale(18)rotate(-90)"><circle class="s ce" r=".5" pathLength="6"/><circle class="s ce" r=".5" pathLength="6" stroke-dashoffset="-1"/><circle class="s cg" r=".5" pathLength="6" stroke-dashoffset="-2"/><circle class="s cb" r=".5" pathLength="6" stroke-dashoffset="-3"/></g><use href="#s6" transform="scale(18)"/><circle class="o" r="18"/><text class="t" y="-23">Cluster32</text><text class="lb" transform="rotate(30)translate(0,-10)rotate(-30)">E10</text><text class="lb" x="10">E75</text><text class="lb" transform="rotate(150)translate(0,-10)rotate(-150)">G50</text><text class="lb" transform="rotate(210)translate(0,-10)rotate(-210)">K30</text><text class="lb" x="-10">F62</text><text class="lb" transform="rotate(330)translate(0,-10)rotate(-330)">F73</text></g>
<g id="p63" transform="translate(1154,603)"><circle class="ck" r="17"/><g transform="scale(17)rotate(-90)"><circle class="s cj" r=".5" pathLength="2"/></g><use href="#s2" transform="scale(17)"/><circle class="o" r="17"/><text class="t" y="-20">Cluster12</text><text class="lb" x="9.4">J25</text><text class="lb" x="-9.4">F45</text></g>
<g id="p64" transform="translate(1196,603)"><circle class="ca" r="17"/><circle class="o" r="17"/><text class="t" y="-20">Cluster69</text><text class="lb">B53</text></g>
<g id="p65" transform="translate(1293,610)"><circle class="cz" r="24"/><g transform="scale(24)rotate(-90)"><circle class="s ce" r=".5" pathLength="2"/></g><use href="#s2" transform="scale(24)"/><circle class="o" r="24"/><text class="t" y="-27">Cluster65</text><text class="lb" x="13.2">E10</text><text class="lb" x="-13.2">Z60</text></g>
<g id="p66" transform="translate(1224,648)"><circle class="ci" r="17"/><circle class="o" r="17"/><text class="t" y="-20">Cluster50</text><text class="lb">I45</text></g>
<g id="p67" transform="translate(1267,648)"><circle class="cc" r="17"/><circle class="o" r="17"/><text class="t" y="-20">Cluster71</text><text class="lb">C50</text></g>
<g id="p68" transform="translate(1322,656)"><circle class="ci" r="24"/><g transform="scale(24)rotate(-90)"><circle class="s ch" r=".5" pathLength="2"/></g><use href="#s2" transform="scale(24)"/><circle class="o" r="24"/><text class="t" y="-27">Cluster19</text><text class="lb" x="13.2">H32</text><text class="lb" x="-13.2">I4</text></g>
<g id="p69" transform="translate(1350,696)"><circle class="ce" r="19.5"/><g transform="scale(19.5)rotate(-90)"><circle class="s cb" r=".5" pathLength="3" stroke-dashoffset="-2"/></g><use href="#s3" transform="scale(19.5)"/><circle class="o" r="19.5"/><text class="t" y="-22.5">Cluster25</text><text class="lb" transform="rotate(60)translate(0,-10.7)rotate(-60)">E13</text><text class="lb" y="10.7">E14</text><text class="lb" transform="rotate(300)translate(0,-10.7)rotate(-300)">K85</text></g>
<g id="p70" transform="translate(1393,698)"><circle class="cb" r="20.5"/><circle class="o" r="20.5"/><text class="t" y="-23.5">Cluster60</text><text class="lb">K30</text></g>
<g id="p71" transform="translate(60,600)"><circle class="cz" r="17"/><g transform="scale(17)rotate(-90)"><circle class="s ck" r=".5" pathLength="2"/></g><use href="#s2" transform="scale(17)"/><circle class="o" r="17"/><text class="t" y="-20">Cluster70</text><text class="lb" x="9.4">F53</text><text class="lb" x="-9.4">Z33</text></g>

<g id="legend">
<circle class="lg" cx="1381" cy="224" r="9.5"/><text class="lt" x="1381" y="224">0-9 years</text>
<circle class="lg" cx="1380" cy="254" r="13"/><text class="lt" x="1380" y="254">10-14 years</text>
<circle class="lg" cx="1379" cy="293" r="17.5"/><text class="lt" x="1379" y="293">15-20 years</text>
<circle class="lg" cx="1379" cy="338" r="23"/><text class="lt" x="1379" y="338">21-24 years</text>
<circle class="lg" cx="1380" cy="390" r="27.5"/><text class="lt" x="1380" y="390">25-30 years</text>
<circle class="lg" cx="1381" cy="449" r="31"/><text class="lt" x="1381" y="449">31+ years</text>
</g>
</svg>
